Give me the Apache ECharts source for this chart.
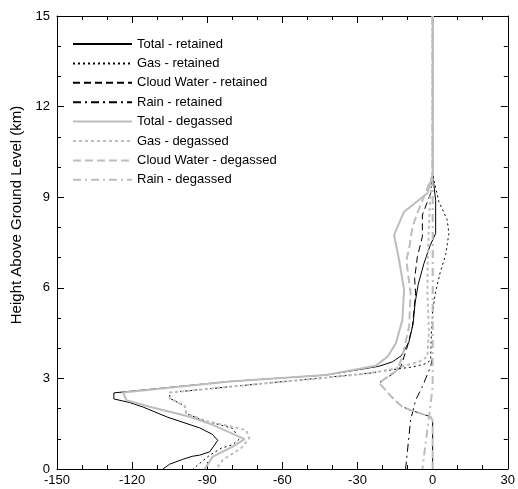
<!DOCTYPE html>
<html><head><meta charset="utf-8">
<script src="https://cdn.jsdelivr.net/npm/echarts@6/dist/echarts.min.js"></script>
<style>html,body{margin:0;padding:0;background:#fff}#c{width:518px;height:489px}</style>
</head><body><div id="c"></div>
<script>
const seriesNames = ["Total - retained","Gas - retained","Cloud Water - retained","Rain - retained",
  "Total - degassed","Gas - degassed","Cloud Water - degassed","Rain - degassed"];
const xTicks = [-150,-120,-90,-60,-30,0,30];
const yTicks = [0,3,6,9,12,15];
const yTitle = 'Height Above Ground Level (km)';

// [value, height km]
const totalRetained = [[0,15],[0,9.75],[1.2,8.9],[1.2,7.8],[-1,7.4],[-3.5,6.8],[-5.8,6.1],[-7,5.5],[-7.8,4.8],[-9.5,4.2],[-12.5,3.75],[-16,3.55],[-21.5,3.4],[-42.6,3.11],[-81,2.9],[-127.3,2.52],[-127.3,2.32],[-121,2.2],[-115.6,2.05],[-106,1.72],[-93,1.36],[-88,1.15],[-85.8,0.95],[-89,0.57],[-93,0.46],[-96,0.42],[-99.8,0.32],[-105,0.16],[-107.7,0]];
const gasRetained = [[0,15],[0,9.75],[2.5,8.85],[5.8,8.25],[6.5,7.8],[5.2,7.1],[3,6.5],[1,5.8],[0,5.2],[-0.5,4.5],[-0.8,3.6],[-3,3.48],[-8,3.38],[-15,3.3],[-25.4,3.17],[-69,2.82],[-105,2.53],[-105,2.34],[-99,2.09],[-98.4,1.84],[-92,1.62],[-80,1.35],[-77,1.0],[-80,0.8],[-84.4,0.69],[-89,0.46],[-95.7,0]];
const cloudRetained = [[0,15],[0,9.75],[-0.8,9.13],[-4.1,8.41],[-4.1,7.69],[-6.1,7.03],[-7.2,6.3],[-6.8,5.82],[-8.1,4.71],[-10.1,4.05],[-12.7,3.39],[-14.7,3.22],[-21.4,2.85],[-15.4,2.3],[-12.1,2.06],[-8.8,1.95],[-0.8,1.73],[0,1.6],[0,0]];
const rainRetained = [[0,15],[0,9.75],[0,3.7],[-0.8,3.39],[-4.1,2.73],[-6.8,2.28],[-8.8,1.62],[-10.8,0]];
const totalDegassed = [[0,15],[0,9.75],[-2.1,9.13],[-11.4,8.52],[-15.4,7.75],[-13.4,6.92],[-11.4,5.93],[-12.1,4.93],[-14.7,4.16],[-18,3.72],[-22.7,3.42],[-42.6,3.11],[-81,2.9],[-123.6,2.53],[-122.3,2.28],[-113,2.06],[-97,1.73],[-87.8,1.46],[-75.1,0.99],[-79.8,0.74],[-87.8,0.41],[-91,0]];
const gasDegassed = [[0,15],[0,9.75],[-1,9],[-1.5,8],[-2,6.9],[-2.1,5.8],[-1.5,4.6],[-2.1,3.72],[-5.5,3.55],[-14.7,3.33],[-25.4,3.17],[-45,3.0],[-69,2.82],[-105,2.53],[-105,2.34],[-99,2.09],[-98.4,1.84],[-90,1.58],[-80,1.4],[-74.5,1.29],[-73.2,1.02],[-76.5,0.69],[-83.8,0.3],[-86.4,0]];
const cloudDegassed = [[0,15],[0,9.75],[-3.5,9.0],[-6,8.5],[-8.1,8.0],[-9.2,7.4],[-10.5,6.9],[-8.8,5.82],[-9.4,4.71],[-12.1,3.72],[-14.1,3.28],[-21.4,2.85],[-15.4,2.3],[-12.1,2.06],[-8.8,1.95],[-0.8,1.73],[0,1.6],[0,0]];
const rainDegassed = [[0,15],[0,9.75],[0,2.7],[-1.5,1.7],[-4.1,0]];

const dataSets = [totalRetained,gasRetained,cloudRetained,rainRetained,totalDegassed,gasDegassed,cloudDegassed,rainDegassed];
const BLACK = '#000', GRAY = '#bdbdbd';
const styles = [
  {color:BLACK,width:1,type:'solid'},
  {color:BLACK,width:1,type:[2,3]},
  {color:BLACK,width:1,type:[7,4]},
  {color:BLACK,width:1,type:[8,4,2,4]},
  {color:GRAY,width:2,type:'solid'},
  {color:GRAY,width:2,type:[3,3]},
  {color:GRAY,width:2,type:[8,4]},
  {color:GRAY,width:2,type:[8,4,2,4]}
];
const FONT = 'Arial, "Liberation Sans", sans-serif';
const chart = echarts.init(document.getElementById('c'), null, {renderer:'canvas'});
const axisCommon = {
  axisLine:{show:true,onZero:false,lineStyle:{color:'#000',width:1}},
  axisTick:{show:true,inside:true,length:7,lineStyle:{color:'#000'}},
  minorTick:{show:true,splitNumber:3,length:4,lineStyle:{color:'#000'}},
  splitLine:{show:false}
};
chart.setOption({
  animation:false,
  grid:{left:57,right:9,top:16,bottom:20,containLabel:false},
  legend:{
    orient:'vertical',left:72,top:37.5,padding:0,itemWidth:59,itemHeight:13,itemGap:6.4,
    data:seriesNames,
    itemStyle:{opacity:0},
    textStyle:{fontFamily:FONT,fontSize:13,lineHeight:13,color:'#000'}
  },
  graphic:[{
    type:'text',x:17,y:215,rotation:Math.PI/2,silent:true,
    style:{text:yTitle,font:'15px '+FONT,fill:'#000',align:'center',verticalAlign:'middle'}
  }],
  xAxis:[
    Object.assign({type:'value',min:-150,max:30,interval:30,position:'bottom',
      axisLabel:{fontFamily:FONT,fontSize:13,color:'#000',margin:5,
        formatter:v=>xTicks.includes(v)?String(v):''}}, axisCommon),
    Object.assign({type:'value',min:-150,max:30,interval:30,position:'top',
      axisLabel:{show:false}}, axisCommon)
  ],
  yAxis:[
    Object.assign({type:'value',min:0,max:15,interval:3,position:'left',
      axisLabel:{fontFamily:FONT,fontSize:13,color:'#000',margin:7,
        formatter:v=>yTicks.includes(v)?String(v):''}}, axisCommon),
    Object.assign({type:'value',min:0,max:15,interval:3,position:'right',
      axisLabel:{show:false}}, axisCommon)
  ],
  series: seriesNames.map((n,i)=>({
    name:n,type:'line',data:dataSets[i],symbol:'none',showSymbol:false,
    xAxisIndex:0,yAxisIndex:0,
    lineStyle:{color:styles[i].color,width:styles[i].width,type:styles[i].type},
    itemStyle:{color:styles[i].color},
    z: i<4 ? 2 : 3
  }))
});
</script></body></html>
